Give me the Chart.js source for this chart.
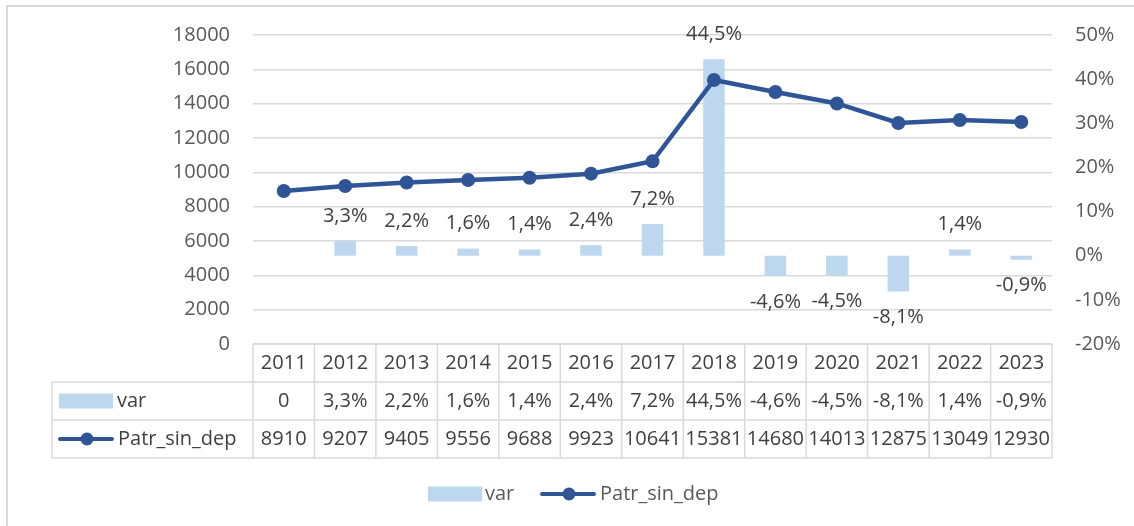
<!DOCTYPE html>
<html>
<head>
<meta charset="utf-8">
<script src="https://cdn.jsdelivr.net/npm/chart.js@4.4.1/dist/chart.umd.min.js"></script>
<style>
  html, body { margin: 0; padding: 0; background: #fff; }
  #wrap { width: 1134px; height: 526px; position: relative; }
</style>
</head>
<body>
<div id="wrap"><canvas id="chart"></canvas></div>
<script>
const years   = ['2011','2012','2013','2014','2015','2016','2017','2018','2019','2020','2021','2022','2023'];
const varPct  = [0, 3.3, 2.2, 1.6, 1.4, 2.4, 7.2, 44.5, -4.6, -4.5, -8.1, 1.4, -0.9];
const patrSinDep = [8910, 9207, 9405, 9556, 9688, 9923, 10641, 15381, 14680, 14013, 12875, 13049, 12930];

const BAR_COLOR  = '#BDD7EE';
const LINE_COLOR = '#2F5597';
const GRID_COLOR = '#D9D9D9';
const FONT = '"Open Sans", "DejaVu Sans", sans-serif';

function fmtPct(v) {
  if (v === 0) return '0';
  return v.toFixed(1).replace('.', ',') + '%';
}

function drawBarKey(ctx, x, y) {
  ctx.fillStyle = BAR_COLOR;
  ctx.fillRect(x, y - 7.5, 54, 15);
}
function drawLineKey(ctx, x, y) {
  ctx.strokeStyle = LINE_COLOR;
  ctx.lineWidth = 4;
  ctx.lineCap = 'round';
  ctx.beginPath(); ctx.moveTo(x + 2, y); ctx.lineTo(x + 54, y); ctx.stroke();
  ctx.fillStyle = LINE_COLOR;
  ctx.beginPath(); ctx.arc(x + 29, y, 6.5, 0, Math.PI * 2); ctx.fill();
}

// frame, bar value labels, data table and legend
const extras = {
  id: 'extras',
  beforeDraw(chart) {
    const ctx = chart.ctx;
    ctx.save();
    ctx.strokeStyle = GRID_COLOR;
    ctx.lineWidth = 2;
    ctx.beginPath();
    ctx.moveTo(7, 526); ctx.lineTo(7, 6); ctx.lineTo(1134, 6);
    ctx.stroke();
    ctx.restore();
  },
  afterDatasetsDraw(chart) {
    const ctx = chart.ctx;
    const meta = chart.getDatasetMeta(0);
    ctx.save();
    ctx.font = '20px ' + FONT;
    ctx.fillStyle = '#404040';
    ctx.textAlign = 'center';
    ctx.textBaseline = 'middle';
    meta.data.forEach((bar, i) => {
      const v = varPct[i];
      if (v === 0) return;
      const y = v > 0 ? bar.y - 25 : bar.y + 26;
      ctx.fillText(fmtPct(v), bar.x, y);
    });
    ctx.restore();
  },
  afterDraw(chart) {
    const ctx = chart.ctx;
    const xs = chart.scales.x;
    const area = chart.chartArea;
    const colW = (area.right - area.left) / years.length;
    const rows = [area.bottom, area.bottom + 38, area.bottom + 76, area.bottom + 114];
    const tableLeft = 52;

    ctx.save();
    ctx.strokeStyle = GRID_COLOR;
    ctx.lineWidth = 1.5;
    ctx.beginPath();
    ctx.moveTo(area.left, rows[0]); ctx.lineTo(area.right, rows[0]);
    for (let r = 1; r < 4; r++) { ctx.moveTo(tableLeft, rows[r]); ctx.lineTo(area.right, rows[r]); }
    ctx.moveTo(tableLeft, rows[1]); ctx.lineTo(tableLeft, rows[3]);
    for (let i = 0; i <= years.length; i++) {
      const x = area.left + i * colW;
      ctx.moveTo(x, rows[0]); ctx.lineTo(x, rows[3]);
    }
    ctx.stroke();

    ctx.font = '20px ' + FONT;
    ctx.fillStyle = '#404040';
    ctx.textAlign = 'center';
    ctx.textBaseline = 'middle';
    years.forEach((yr, i) => {
      const cx = xs.getPixelForValue(i);
      ctx.fillText(yr, cx, rows[0] + 19);
      ctx.fillText(fmtPct(varPct[i]), cx, rows[1] + 19);
      ctx.fillText(String(patrSinDep[i]), cx, rows[2] + 19);
    });

    // row headers
    ctx.textAlign = 'left';
    drawBarKey(ctx, 59, rows[1] + 19);
    drawLineKey(ctx, 58, rows[2] + 19);
    ctx.fillStyle = '#404040';
    ctx.fillText('var', 117, rows[1] + 19);
    ctx.fillText('Patr_sin_dep', 118, rows[2] + 19);

    // legend
    const ly = 494;
    drawBarKey(ctx, 428, ly);
    drawLineKey(ctx, 540, ly);
    ctx.fillStyle = '#595959';
    ctx.fillText('var', 485, ly);
    ctx.fillText('Patr_sin_dep', 600, ly);
    ctx.restore();
  }
};

new Chart(document.getElementById('chart'), {
  data: {
    labels: years,
    datasets: [
      {
        type: 'bar', label: 'var', data: varPct, yAxisID: 'y1', order: 1,
        backgroundColor: BAR_COLOR, barPercentage: 0.35, categoryPercentage: 1
      },
      {
        type: 'line', label: 'Patr_sin_dep', data: patrSinDep, yAxisID: 'y', order: 0,
        borderColor: LINE_COLOR, borderWidth: 4.5, tension: 0,
        pointRadius: 7, pointBackgroundColor: LINE_COLOR, pointBorderWidth: 0
      }
    ]
  },
  options: {
    responsive: true, maintainAspectRatio: false, animation: false,
    layout: { padding: { left: 0, right: 0, top: 34, bottom: 182 } },
    plugins: { legend: { display: false }, tooltip: { enabled: false } },
    scales: {
      x: { display: false, offset: true },
      y: {
        position: 'left', min: 0, max: 18000,
        ticks: { stepSize: 2000, color: '#595959', padding: 23, font: { family: FONT, size: 20 }, callback: v => String(v) },
        grid: { color: GRID_COLOR, lineWidth: 1.5, drawTicks: false },
        border: { display: false },
        afterFit: s => { s.width = 253; }
      },
      y1: {
        position: 'right', min: -20, max: 50,
        ticks: { stepSize: 10, color: '#595959', padding: 23, font: { family: FONT, size: 20 }, callback: v => v + '%' },
        grid: { display: false, drawTicks: false },
        border: { display: false },
        afterFit: s => { s.width = 82; }
      }
    }
  },
  plugins: [extras]
});
</script>
</body>
</html>
